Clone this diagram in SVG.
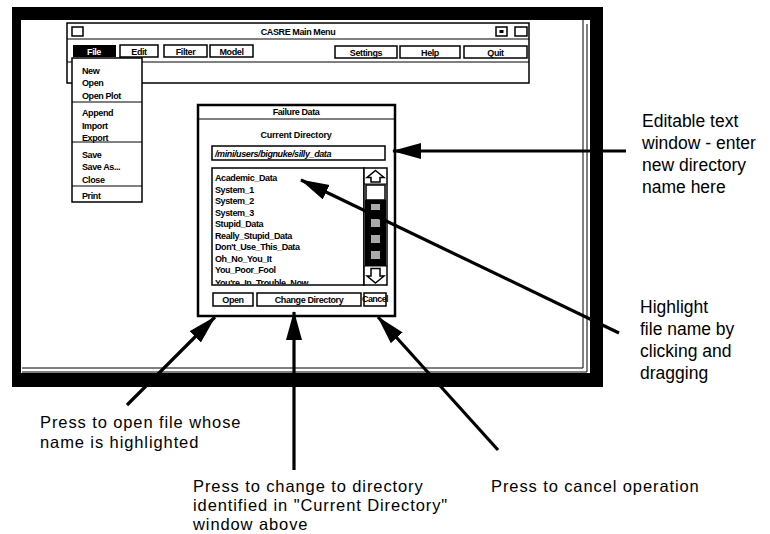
<svg xmlns="http://www.w3.org/2000/svg" width="770" height="534" viewBox="0 0 770 534">
<style>
  .ui{font-family:"Liberation Sans",Arial,sans-serif;font-weight:bold;font-size:9px;letter-spacing:-0.4px;fill:#000}
  .uic{font-family:"Liberation Sans",Arial,sans-serif;font-weight:bold;font-size:9px;letter-spacing:-0.4px;fill:#000;text-anchor:middle}
  .box{fill:#fff;stroke:#000;stroke-width:1.5}
  .thin{fill:none;stroke:#000;stroke-width:1}
  .lbl{font-family:"Liberation Sans",Arial,Helvetica,sans-serif;font-size:17.5px;fill:#000}
  .lblb{font-family:"Liberation Sans",Arial,Helvetica,sans-serif;font-size:16.5px;letter-spacing:0.9px;fill:#000}
  .conn{stroke:#000;stroke-width:3.2;fill:none}
</style>
<defs>
  <marker id="arrow" markerUnits="userSpaceOnUse" markerWidth="32" markerHeight="18" refX="28" refY="8" orient="auto">
    <path d="M0,0 L29,8 L0,16 Z" fill="#000"/>
  </marker>
  <clipPath id="listclip"><rect x="213" y="169" width="150" height="115"/></clipPath>
</defs>
<rect width="770" height="534" fill="#fff"/>

<g id="casre-window">
  <path d="M12,7 H603 V387 H12 Z M21,20 V373 H590 V20 Z" fill="#000" fill-rule="evenodd"/>
  <path class="thin" d="M583,20 V368 H22"/>
  <path class="thin" d="M587,24 V372 H22"/>
</g>

<g id="main-menu">
  <rect class="box" x="67" y="23" width="462" height="60"/>
  <line class="thin" x1="67" y1="39" x2="529" y2="39" stroke-width="1.5"/>
  <line class="thin" x1="67" y1="62" x2="529" y2="62" stroke-width="1.5"/>
  <rect class="box" x="72" y="27" width="11" height="9"/>
  <rect class="box" x="496" y="27" width="11" height="9"/>
  <rect x="499.5" y="30" width="4" height="3" fill="#000"/>
  <rect class="box" x="515" y="27" width="12" height="9"/>
  <text class="uic" x="298" y="35" font-size="10">CASRE Main Menu</text>
  <rect x="73" y="45" width="43" height="12" fill="#000"/>
  <text class="uic" x="94" y="54.5" style="fill:#fff">File</text>
  <rect class="box" x="120" y="45" width="38" height="12"/>
  <text class="uic" x="139" y="54.5">Edit</text>
  <rect class="box" x="164" y="45" width="43" height="12"/>
  <text class="uic" x="185.5" y="54.5">Filter</text>
  <rect class="box" x="210" y="45" width="43" height="12"/>
  <text class="uic" x="231.5" y="54.5">Model</text>
  <rect class="box" x="335" y="46" width="62" height="12"/>
  <text class="uic" x="366" y="55.5">Settings</text>
  <rect class="box" x="400" y="46" width="60" height="12"/>
  <text class="uic" x="430" y="55.5">Help</text>
  <rect class="box" x="464" y="46" width="63" height="12"/>
  <text class="uic" x="495.5" y="55.5">Quit</text>
</g>

<g id="file-menu">
  <rect class="box" x="72" y="58" width="70" height="144"/>
  <line class="thin" x1="72" y1="102" x2="142" y2="102" stroke-width="1.5"/>
  <line class="thin" x1="72" y1="142" x2="142" y2="142" stroke-width="1.5"/>
  <line class="thin" x1="72" y1="186" x2="142" y2="186" stroke-width="1.5"/>
  <text class="ui" x="82" y="74">New</text>
  <text class="ui" x="82" y="86">Open</text>
  <text class="ui" x="82" y="99">Open Plot</text>
  <text class="ui" x="82" y="116">Append</text>
  <text class="ui" x="82" y="129">Import</text>
  <text class="ui" x="82" y="141">Export</text>
  <text class="ui" x="82" y="158">Save</text>
  <text class="ui" x="82" y="170">Save As...</text>
  <text class="ui" x="82" y="183">Close</text>
  <text class="ui" x="82" y="199">Print</text>
</g>

<g id="failure-data-dialog">
  <rect x="198" y="105" width="197" height="211" fill="#fff" stroke="#000" stroke-width="2.5"/>
  <line class="thin" x1="198" y1="119" x2="395" y2="119" stroke-width="1.5"/>
  <text class="uic" x="296" y="115" font-size="8.5">Failure Data</text>
  <text class="uic" x="296" y="138" font-size="10.5" style="letter-spacing:-0.2px">Current Directory</text>
  <rect class="box" x="212" y="146" width="173" height="14"/>
  <text class="ui" x="215" y="156.5" font-size="8" font-style="italic">/mini/users/bignuke/silly_data</text>
  <rect class="box" x="212" y="168" width="152" height="117"/>
  <rect class="box" x="364" y="168" width="23" height="117"/>
  <rect x="365" y="200" width="21" height="66" fill="#000"/>
  <rect x="371" y="204" width="9" height="6" fill="#aaa"/>
  <rect x="371" y="219" width="9" height="8" fill="#aaa"/>
  <rect x="371" y="235" width="9" height="8" fill="#aaa"/>
  <rect x="371" y="251" width="9" height="8" fill="#aaa"/>
  <rect class="box" x="366" y="185" width="19" height="15"/>
  <line class="thin" x1="364" y1="184" x2="387" y2="184" stroke-width="1.5"/>
  <line class="thin" x1="364" y1="266" x2="387" y2="266" stroke-width="1.5"/>
  <path d="M375.5,170.5 L384,177.5 H380 V182 H371 V177.5 H367 Z" fill="#fff" stroke="#000" stroke-width="1.5"/>
  <path d="M375.5,283 L384,276 H380 V268.5 H371 V276 H367 Z" fill="#fff" stroke="#000" stroke-width="1.5"/>
  <text class="ui" x="215" y="181">Academic_Data</text>
  <text class="ui" x="215" y="192.5">System_1</text>
  <text class="ui" x="215" y="204">System_2</text>
  <text class="ui" x="215" y="215.5">System_3</text>
  <text class="ui" x="215" y="227">Stupid_Data</text>
  <text class="ui" x="215" y="238.5">Really_Stupid_Data</text>
  <text class="ui" x="215" y="250">Don't_Use_This_Data</text>
  <text class="ui" x="215" y="261.5">Oh_No_You_It</text>
  <text class="ui" x="215" y="273">You_Poor_Fool</text>
  <text class="ui" x="215" y="285.5" clip-path="url(#listclip)">You're_In_Trouble_Now</text>
  <rect class="box" x="213" y="293" width="40" height="13"/>
  <text class="uic" x="233" y="302.5">Open</text>
  <rect class="box" x="257" y="293" width="104" height="13"/>
  <text class="uic" x="309" y="302.5">Change Directory</text>
  <rect class="box" x="364" y="293" width="22" height="13"/>
  <text class="uic" x="375" y="302" font-size="7" style="letter-spacing:-0.6px">Cancel</text>
</g>

<g id="connectors">
  <line class="conn" x1="626" y1="151" x2="393" y2="151" marker-end="url(#arrow)"/>
  <line class="conn" x1="619" y1="333" x2="301" y2="180" marker-end="url(#arrow)"/>
  <line class="conn" x1="127" y1="405" x2="215" y2="317" marker-end="url(#arrow)"/>
  <line class="conn" x1="294" y1="470" x2="294" y2="312" marker-end="url(#arrow)"/>
  <line class="conn" x1="498" y1="450" x2="378" y2="317" marker-end="url(#arrow)"/>
</g>

<g id="labels">
  <text class="lbl" x="642" y="127">Editable text</text>
  <text class="lbl" x="642" y="149">window - enter</text>
  <text class="lbl" x="642" y="171">new directory</text>
  <text class="lbl" x="642" y="193">name here</text>
  <text class="lbl" x="640" y="313">Highlight</text>
  <text class="lbl" x="640" y="335">file name by</text>
  <text class="lbl" x="640" y="357">clicking and</text>
  <text class="lbl" x="640" y="379">dragging</text>
  <text class="lblb" x="40" y="428">Press to open file whose</text>
  <text class="lblb" x="40" y="448">name is highlighted</text>
  <text class="lblb" x="193" y="492">Press to change to directory</text>
  <text class="lblb" x="193" y="511">identified in "Current Directory"</text>
  <text class="lblb" x="193" y="530">window above</text>
  <text class="lblb" x="491" y="492">Press to cancel operation</text>
</g>
</svg>
